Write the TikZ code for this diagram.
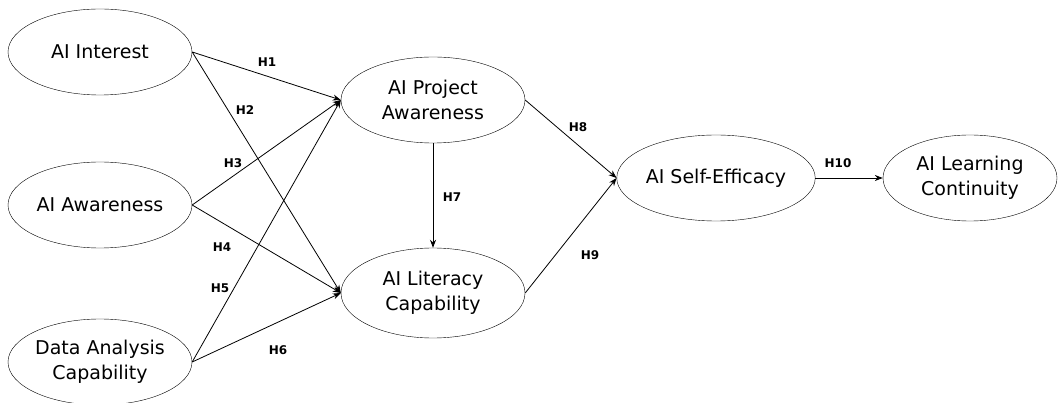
\documentclass[tikz,border=0pt]{standalone}
\usepackage{fontspec}
\setmainfont{DejaVu Sans}
\usepackage{tikz}
\usetikzlibrary{arrows.meta, positioning, shapes.geometric}
\tikzstyle{var}=[draw, shape=ellipse, inner sep=0pt, minimum width=184pt, minimum height=86pt, align=center, font=\fontsize{19}{25}\selectfont]
\tikzstyle{hyp}=[inner sep=1pt, font=\fontsize{12}{14}\selectfont\bfseries]
\tikzstyle{link}=[->, line width=0.8pt]
\tikzset{>={Stealth[length=8pt, width=6pt]}}

\begin{document}
\begin{tikzpicture}[x=1pt, y=-1pt]
\useasboundingbox (0,0) rectangle (1062,403);
% the antecedents
\node[var] (int) at (100,52) {AI Interest};
\node[var] (aw) at (100,205) {AI Awareness};
\node[var] (data) at (100,362) {Data Analysis\\Capability};
% the mediators
\node[var] (proj) at (433,100) {AI Project\\Awareness};
\node[var, minimum height=90pt] (lit) at (433,293) {AI Literacy\\Capability};
\node[var] (eff) at (716,178) {AI Self-Efficacy};
% the outcome
\node[var, minimum width=174pt] (cont) at (970,178) {AI Learning\\Continuity};
% the paths
\draw[link] (int.east) -- (proj.west);
\draw[link] (int.east) -- (lit.west);
\draw[link] (aw.east) -- (proj.west);
\draw[link] (aw.east) -- (lit.west);
\draw[link] (data.east) -- (proj.west);
\draw[link] (data.east) -- (lit.west);
\draw[link] (proj.south) -- (lit.north);
\draw[link] (proj.east) -- (eff.west);
\draw[link] (lit.east) -- (eff.west);
\draw[link] (eff.east) -- (cont.west);
% the hypotheses
\node[hyp] (h1) at (267,62) {H1};
\node[hyp] (h2) at (245,110) {H2};
\node[hyp] (h3) at (233,163) {H3};
\node[hyp] (h4) at (222,247) {H4};
\node[hyp] (h5) at (220,288) {H5};
\node[hyp] (h6) at (278,350) {H6};
\node[hyp] (h7) at (452,197) {H7};
\node[hyp] (h8) at (578,127) {H8};
\node[hyp] (h9) at (590,255) {H9};
\node[hyp] (h10) at (838,163) {H10};
\end{tikzpicture}
\end{document}
